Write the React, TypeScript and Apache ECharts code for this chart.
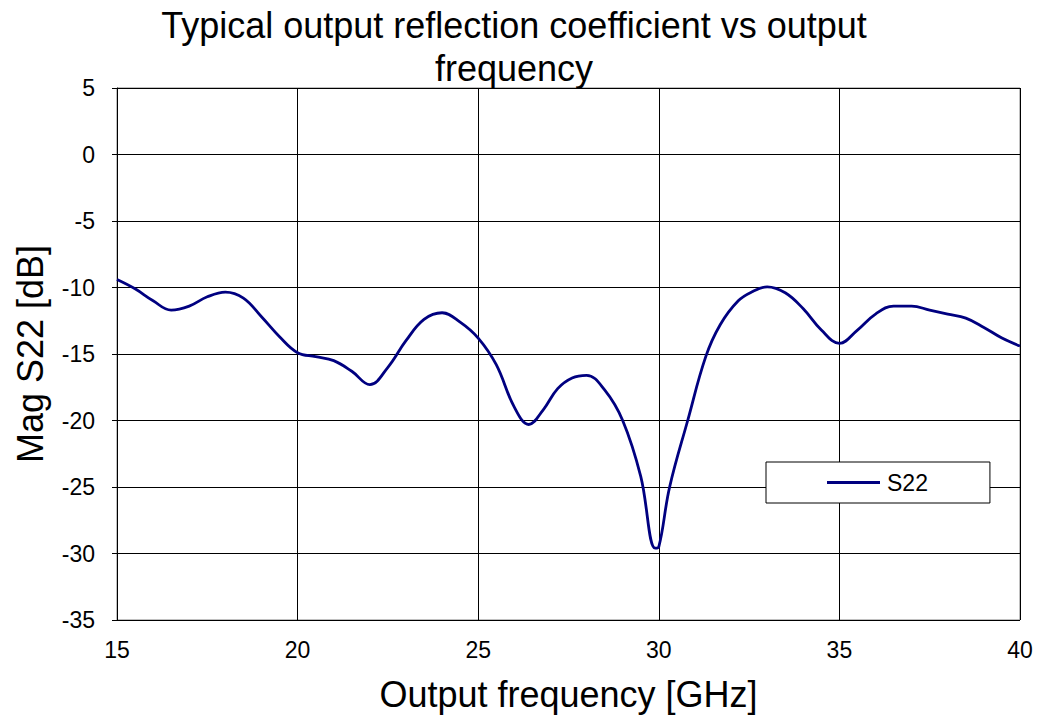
import React, { useEffect, useRef } from "react";
import * as echarts from "echarts";

const freq = [
  15.0, 15.5, 16.0, 16.5, 17.0, 17.5, 18.0, 18.5, 19.0, 19.5, 20.0, 20.5, 21.0, 21.5, 22.0, 22.5,
  23.0, 23.5, 24.0, 24.5, 25.0, 25.5, 26.0, 26.4, 26.8, 27.2, 27.6, 28.0, 28.5, 29.0, 29.5, 29.9,
  30.0, 30.3, 30.8, 31.3, 31.7, 32.2, 32.6, 33.0, 33.5, 34.0, 34.5, 35.0, 35.5, 36.0, 36.5, 37.0,
  37.5, 38.0, 38.5, 39.0, 39.5, 40.0,
];
const s22 = [
  -9.4, -10.1, -11.0, -11.7, -11.4, -10.7, -10.35, -10.8, -12.2, -13.7, -14.9, -15.2, -15.5, -16.3, -17.3, -16.0,
  -14.0, -12.4, -11.9, -12.6, -13.8, -15.8, -19.0, -20.3, -19.2, -17.6, -16.8, -16.6, -17.7, -20.0, -24.2, -29.6,
  -29.5, -25.0, -20.0, -15.2, -12.8, -11.0, -10.3, -9.95, -10.4, -11.6, -13.2, -14.2, -13.2, -12.0, -11.4, -11.4,
  -11.7, -12.0, -12.3, -13.0, -13.8, -14.4,
];
const seriesName = "S22";
const titleText = "Typical output reflection coefficient vs output\nfrequency";
const xName = "Output frequency [GHz]";
const yName = "Mag S22 [dB]";

export default function App() {
  const ref = useRef<HTMLDivElement>(null);
  useEffect(() => {
    if (!ref.current) return;
    const chart = echarts.init(ref.current, null, { renderer: "svg" });
    const font = "'Liberation Sans', Arial, sans-serif";
    chart.setOption({
      animation: false,
      backgroundColor: "#ffffff",
      textStyle: { fontFamily: font, color: "#000" },
      title: {
        text: titleText,
        left: 514,
        textAlign: "center",
        top: 4,
        padding: 0,
        textStyle: { fontFamily: font, fontSize: 36, fontWeight: "normal", color: "#000", lineHeight: 43 },
      },
      grid: { left: 117, right: 18, top: 88, bottom: 98, show: true, borderColor: "#808080", borderWidth: 1 },
      legend: {
        left: 766,
        top: 462,
        padding: [9, 62, 9, 61],
        itemWidth: 53,
        itemHeight: 3,
        itemGap: 0,
        icon: "rect",
        backgroundColor: "#ffffff",
        borderColor: "#000",
        borderWidth: 1,
        borderRadius: 0,
        textStyle: { fontFamily: font, fontSize: 23, color: "#000", padding: [0, 0, 0, 2] },
        data: [seriesName],
      },
      xAxis: {
        type: "value",
        min: 15,
        max: 40,
        interval: 5,
        name: xName,
        nameLocation: "middle",
        nameGap: 56,
        nameTextStyle: { fontFamily: font, fontSize: 36, color: "#000" },
        axisLine: { show: true, lineStyle: { color: "#000", width: 1 } },
        axisTick: { show: true, length: 5, lineStyle: { color: "#000" } },
        axisLabel: { fontFamily: font, fontSize: 23, color: "#000", margin: 18 },
        splitLine: { show: true, lineStyle: { color: "#000", width: 1 } },
      },
      yAxis: {
        type: "value",
        min: -35,
        max: 5,
        interval: 5,
        name: yName,
        nameLocation: "middle",
        nameGap: 69,
        nameTextStyle: { fontFamily: font, fontSize: 36, color: "#000" },
        axisLine: { show: true, lineStyle: { color: "#000", width: 1 } },
        axisTick: { show: true, length: 5, lineStyle: { color: "#000" } },
        axisLabel: { fontFamily: font, fontSize: 23, color: "#000", margin: 22 },
        splitLine: { show: true, lineStyle: { color: "#000", width: 1 } },
      },
      series: [
        {
          name: seriesName,
          type: "line",
          data: freq.map((f, i) => [f, s22[i]]),
          smooth: 0.4,
          showSymbol: false,
          symbol: "none",
          lineStyle: { color: "#000080", width: 2.8 },
          itemStyle: { color: "#000080" },
        },
      ],
    });
    return () => chart.dispose();
  }, []);
  return <div ref={ref} style={{ position: "fixed", left: 0, top: 0, width: 1038, height: 718 }} />;
}
